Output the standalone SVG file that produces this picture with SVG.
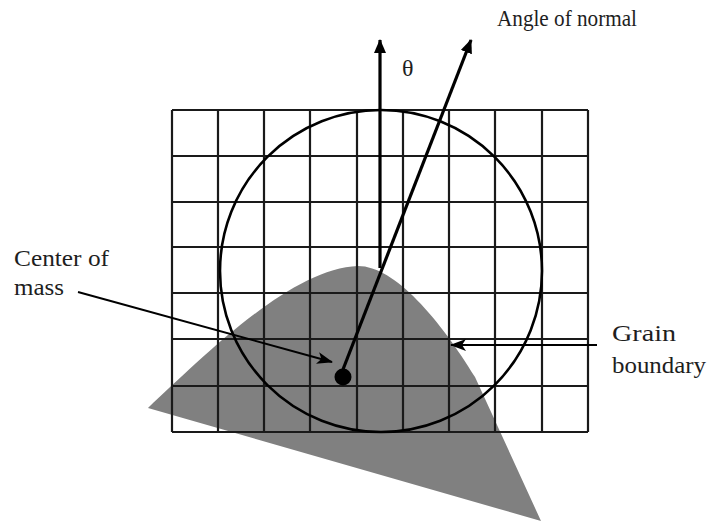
<svg xmlns="http://www.w3.org/2000/svg" width="708" height="525" viewBox="0 0 708 525">
<style>
.lbl{font-family:"Liberation Serif","Times New Roman",serif;font-size:24px;fill:#1e1e1e}
.grid line{stroke:#1a1a1a;stroke-width:2.2}
.thick{stroke:#000;stroke-width:3.2;fill:none}
.thin{stroke:#000;stroke-width:2;fill:none}
</style>
<defs>
<marker id="ah" viewBox="0 0 14 12" refX="13" refY="6" markerWidth="14" markerHeight="12" markerUnits="userSpaceOnUse" orient="auto">
<path d="M0,0 L14,6 L0,12 Z" fill="#000"/>
</marker>
<marker id="ahs" viewBox="0 0 16 12" refX="15" refY="6" markerWidth="16" markerHeight="12" markerUnits="userSpaceOnUse" orient="auto">
<path d="M0,0 L16,6 L0,12 L4,6 Z" fill="#000"/>
</marker>
</defs>
<rect width="708" height="525" fill="#fff"/>
<g id="grain">
<path d="M148,408 C200,360 290,268 358,266 C395,266 440,320 475,377 L541,521 Z" fill="#808080"/>
</g>
<g id="grid" class="grid">
<line x1="172" y1="110" x2="588" y2="110"/>
<line x1="172" y1="156" x2="588" y2="156"/>
<line x1="172" y1="202" x2="588" y2="202"/>
<line x1="172" y1="247" x2="588" y2="247"/>
<line x1="172" y1="293" x2="588" y2="293"/>
<line x1="172" y1="339" x2="588" y2="339"/>
<line x1="172" y1="386" x2="588" y2="386"/>
<line x1="172" y1="432" x2="588" y2="432"/>
<line x1="172" y1="110" x2="172" y2="432"/>
<line x1="218" y1="110" x2="218" y2="432"/>
<line x1="264" y1="110" x2="264" y2="432"/>
<line x1="310" y1="110" x2="310" y2="432"/>
<line x1="357" y1="110" x2="357" y2="432"/>
<line x1="403" y1="110" x2="403" y2="432"/>
<line x1="449" y1="110" x2="449" y2="432"/>
<line x1="495" y1="110" x2="495" y2="432"/>
<line x1="542" y1="110" x2="542" y2="432"/>
<line x1="588" y1="110" x2="588" y2="432"/>
</g>
<g id="circle">
<circle cx="381" cy="271" r="161" fill="none" stroke="#000" stroke-width="2.6"/>
</g>
<g id="center-dot">
<circle cx="343" cy="377" r="8.5" fill="#000"/>
</g>
<g id="connectors">
<line class="thick" x1="380" y1="268" x2="380" y2="40" marker-end="url(#ah)"/>
<line class="thick" x1="342" y1="372" x2="471" y2="40" marker-end="url(#ah)"/>
<line class="thin" x1="78" y1="292" x2="332" y2="362" marker-end="url(#ahs)"/>
<line class="thin" x1="597" y1="345" x2="451" y2="345" marker-end="url(#ahs)"/>
</g>
<g id="labels">
<text class="lbl" x="497" y="26" textLength="140" lengthAdjust="spacingAndGlyphs">Angle of normal</text>
<text class="lbl" x="402" y="76" font-size="21">θ</text>
<text class="lbl" x="14" y="266" textLength="95" lengthAdjust="spacingAndGlyphs">Center of</text>
<text class="lbl" x="14" y="295" textLength="50" lengthAdjust="spacingAndGlyphs">mass</text>
<text class="lbl" x="612" y="341" textLength="64" lengthAdjust="spacingAndGlyphs">Grain</text>
<text class="lbl" x="612" y="373" textLength="94" lengthAdjust="spacingAndGlyphs">boundary</text>
</g>
</svg>
